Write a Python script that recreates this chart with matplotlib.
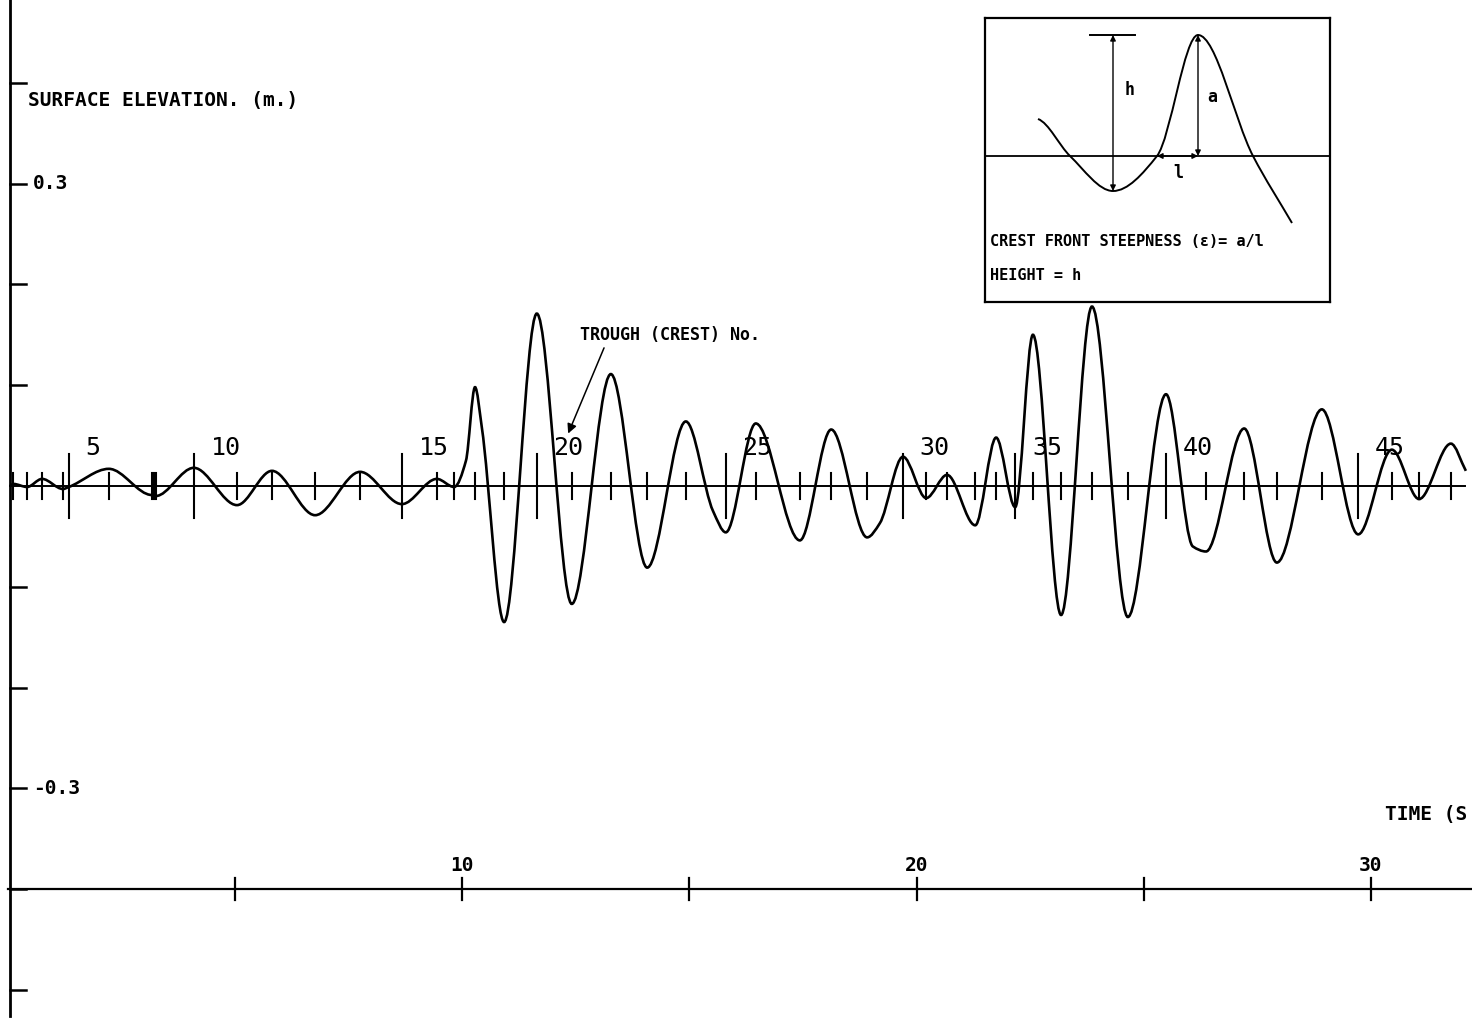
import numpy as np
import matplotlib
matplotlib.use("Agg")
import matplotlib.pyplot as plt
from matplotlib.path import Path
from matplotlib.patches import PathPatch

# numbered troughs / crests of the record: time (s), elevation (m)
ext_t = [0.12, 0.42, 0.75, 1.21, 1.34, 2.22, 3.17, 3.21, 3.25, 4.09,
         5.04, 5.81, 6.76, 7.75, 8.67, 9.44, 9.82, 10.28, 10.92, 11.64,
         12.41, 13.27, 14.07, 14.92, 15.80, 16.46, 17.43, 18.12, 18.91, 19.70,
         20.21, 20.67, 21.29, 21.75, 22.17, 22.56, 23.18, 23.86, 24.65, 25.49,
         26.37, 27.21, 27.93, 28.92, 29.72, 30.46, 31.06, 31.76]
ext_eta = [0.002, -0.001, 0.007, -0.003, -0.001, 0.017, -0.009, -0.008, -0.010, 0.018,
           -0.019, 0.015, -0.029, 0.014, -0.018, 0.007, -0.001, 0.098, -0.135, 0.171,
           -0.117, 0.111, -0.081, 0.064, -0.046, 0.062, -0.054, 0.056, -0.051, 0.029,
           -0.012, 0.011, -0.039, 0.048, -0.021, 0.150, -0.128, 0.178, -0.130, 0.091,
           -0.065, 0.057, -0.076, 0.076, -0.048, 0.036, -0.013, 0.042]

# extra points on the trace (start, shoulders, end)
extra_t = [0.04, 10.08, 10.43, 15.52, 19.19, 26.08, 32.09]
extra_eta = [0.000, 0.025, 0.058, -0.025, -0.037, -0.060, 0.015]

time_ticks = [5, 10, 15, 20, 25, 30]
time_labels = ["", "10", "", "20", "", "30"]
elev_ticks = [0.4, 0.3, 0.2, 0.1, -0.1, -0.2, -0.3, -0.4, -0.5]
elev_labels = {0.3: "0.3", -0.3: "-0.3"}

# inset sketch (box units, y downwards)
sk_x = [53, 85, 128, 172, 213, 268, 307]
sk_y = [101, 138, 173, 138, 17, 138, 205]

MONO = "DejaVu Sans Mono"


def pchip_path(x, y):
    # smooth curve through the points, flat at every peak
    x = np.asarray(x, float)
    y = np.asarray(y, float)
    h = np.diff(x)
    d = np.diff(y) / h
    m = np.zeros_like(y)
    for k in range(1, len(x) - 1):
        if d[k - 1] * d[k] > 0:
            w1 = 2 * h[k] + h[k - 1]
            w2 = h[k] + 2 * h[k - 1]
            m[k] = (w1 + w2) / (w1 / d[k - 1] + w2 / d[k])
    m[0] = d[0] * 0.3
    m[-1] = d[-1]
    verts = [(x[0], y[0])]
    codes = [Path.MOVETO]
    for k in range(len(x) - 1):
        verts += [(x[k] + h[k] / 3, y[k] + m[k] * h[k] / 3),
                  (x[k + 1] - h[k] / 3, y[k + 1] - m[k + 1] * h[k] / 3),
                  (x[k + 1], y[k + 1])]
        codes += [Path.CURVE4] * 3
    return Path(verts, codes)


fig = plt.figure(figsize=(14.72, 10.19), dpi=100)
ax = fig.add_axes([0, 0, 1, 1])
ax.set_xlim(-0.176, 32.225)
ax.set_ylim(-0.5288, 0.4821)
ax.axis("off")

# vertical axis with ticks
ax.plot([0.044, 0.044], [-0.526, 0.49], color="black", lw=2.0, clip_on=False)
for v in elev_ticks:
    ax.plot([0.044, 0.40], [v, v], color="black", lw=1.8)
for v, s in elev_labels.items():
    ax.text(0.55, v, s, fontfamily=MONO, fontweight="bold", fontsize=14,
            ha="left", va="center")
ax.text(0.44, 0.382, "SURFACE ELEVATION. (m.)", fontfamily=MONO,
        fontweight="bold", fontsize=14, ha="left", va="center")

# time axis drawn at -0.4
ax.plot([0.0, 32.3], [-0.4, -0.4], color="black", lw=1.6)
for t, s in zip(time_ticks, time_labels):
    ax.plot([t, t], [-0.411, -0.389], color="black", lw=1.6)
    if s:
        ax.text(t, -0.377, s, fontfamily=MONO, fontweight="bold", fontsize=14,
                ha="center", va="center")
ax.text(30.30, -0.326, "TIME (S", fontfamily=MONO, fontweight="bold",
        fontsize=14, ha="left", va="center")

# mean water line and trough/crest markers
ax.plot([0.044, 32.07], [0, 0], color="black", lw=1.4)
for i, t in enumerate(ext_t):
    n = i + 1
    half = 0.032 if n % 5 == 0 else 0.013
    ax.plot([t, t], [-half, half], color="black", lw=1.5)
    if n % 5 == 0:
        ax.text(t + 0.37, 0.038, str(n), fontfamily=MONO, fontsize=18,
                ha="left", va="center")

# surface elevation trace
pts = sorted(zip(ext_t + extra_t, ext_eta + extra_eta))
ax.add_patch(PathPatch(pchip_path([p[0] for p in pts], [p[1] for p in pts]),
                       facecolor="none", edgecolor="black", lw=1.9))

ax.annotate("", xy=(12.33, 0.052), xytext=(13.12, 0.137),
            arrowprops=dict(arrowstyle="-|>", color="black", lw=1.1,
                            mutation_scale=14, shrinkA=0, shrinkB=0))
ax.text(12.59, 0.150, "TROUGH (CREST) No.", fontfamily=MONO,
        fontweight="bold", fontsize=12, ha="left", va="center")

# inset definition sketch
ins = fig.add_axes([985 / 1472, 1 - 302 / 1019, 345 / 1472, 284 / 1019])
ins.set_xlim(0, 345)
ins.set_ylim(284, 0)
ins.set_xticks([])
ins.set_yticks([])
for sp in ins.spines.values():
    sp.set_linewidth(1.6)
ins.plot([0, 345], [138, 138], color="black", lw=1.3)
ins.add_patch(PathPatch(pchip_path(sk_x, sk_y), facecolor="none",
                        edgecolor="black", lw=1.4))
ins.plot([105, 150], [17, 17], color="black", lw=1.4)
arr = dict(arrowstyle="<|-|>", color="black", lw=1.0, mutation_scale=8,
           shrinkA=0, shrinkB=0)
ins.annotate("", xy=(128, 17), xytext=(128, 173), arrowprops=arr)
ins.annotate("", xy=(213, 17), xytext=(213, 138), arrowprops=arr)
ins.annotate("", xy=(172, 138), xytext=(213, 138), arrowprops=arr)
ins.text(140, 72, "h", fontfamily=MONO, fontweight="bold", fontsize=12,
         ha="left", va="center")
ins.text(222, 79, "a", fontfamily=MONO, fontweight="bold", fontsize=12,
         ha="left", va="center")
ins.text(193, 155, "l", fontfamily=MONO, fontweight="bold", fontsize=12,
         ha="center", va="center")
ins.text(5, 224, "CREST FRONT STEEPNESS (ε)= a/l", fontfamily=MONO,
         fontweight="bold", fontsize=11, ha="left", va="center")
ins.text(5, 257, "HEIGHT = h", fontfamily=MONO, fontweight="bold",
         fontsize=11, ha="left", va="center")

fig.savefig("out.png", dpi=100)
